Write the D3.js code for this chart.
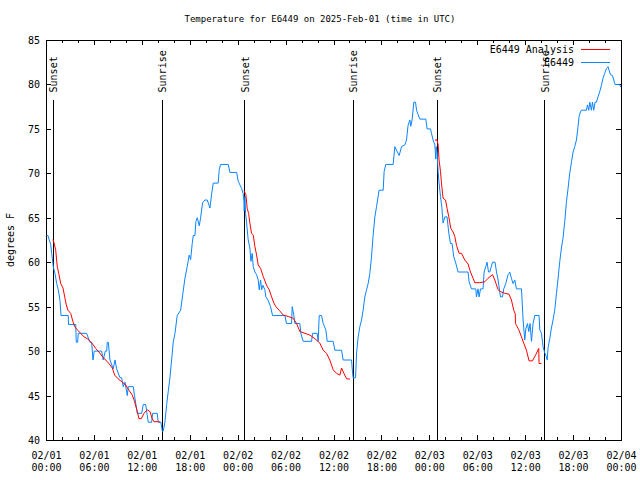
<!DOCTYPE html>
<html>
<head>
<meta charset="utf-8">
<script src="https://cdn.jsdelivr.net/npm/d3@7"></script>
<style>
  body { margin: 0; background: #fff; }
  text { font-family: "DejaVu Sans Mono", "Liberation Mono", monospace; font-size: 10px; fill: #000; }
  .domain { display: none; }
</style>
</head>
<body>
<div class="chart"></div>
<script>
// hours after 2025-02-01 00:00 UTC, degrees F
var observed = [
  [0.06,63],[0.25,63],[0.41,62.5],[0.59,62],[0.71,61],[0.91,59.5],[1.13,58.7],[1.34,57.6],[1.54,56.9],[1.75,55.7],
  [1.88,54],[2.79,54],[2.82,53],[3.72,53],[3.79,51],[3.96,51],[4.04,52],[5.09,52],[5.29,51.5],[5.51,51],
  [5.72,51],[5.88,49],[6.04,50],[6.97,50],[7.17,49],[7.42,50],[7.6,50],[7.67,51],[7.8,51],[8.01,49],
  [8.42,48],[8.64,49],[8.85,48],[9.26,47],[9.47,47],[9.67,46],[9.89,46.5],[10.18,45],[10.3,46],[10.93,46],
  [11.08,45],[11.26,44],[11.43,43],[11.98,43],[12.18,44],[12.48,44],[12.64,43],[12.8,42],[13.23,42],[13.35,43],
  [13.93,43],[14.05,42],[14.39,42],[14.56,41],[14.68,41],[14.89,42],[15.11,44],[15.31,45.5],[15.52,47],[15.73,49],
  [15.93,51],[16.15,52],[16.43,54],[16.86,54.6],[17.11,56.3],[17.4,58.2],[17.68,59.5],[17.93,60.8],[18.11,60.3],[18.31,62.1],
  [18.44,63],[18.65,63],[18.77,64.6],[18.94,65],[19.19,64.1],[19.36,65],[19.61,66.7],[19.9,67],[20.19,67],[20.53,66.1],
  [20.74,67.7],[20.94,68.9],[21.56,68.9],[21.69,70.4],[21.86,71],[22.82,71],[23.03,70.1],[23.87,70.1],[24.07,69.1],[24.28,68.7],
  [24.49,68.3],[24.69,67.7],[24.78,66.9],[24.82,65.8],[24.91,67.4],[24.99,65.5],[25.12,64.4],[25.32,62.5],[25.53,61.6],[25.66,60.1],
  [25.82,61],[25.95,59.5],[26.16,58.9],[26.37,58.6],[26.57,58],[26.7,56.9],[26.87,58],[27.0,56.9],[27.16,57.4],[27.41,56.9],
  [27.53,56.1],[27.82,55.7],[28.12,55],[28.37,54],[29.91,54],[30.12,53.1],[30.75,53.1],[30.83,55],[31.04,54],[31.16,53.1],
  [31.79,53.1],[31.91,52],[32.2,51.1],[33.25,51.1],[33.38,52],[33.95,52],[34.08,51.1],[34.21,54],[34.51,54],[34.71,53.1],
  [35.04,52.4],[35.21,51.1],[35.96,51.1],[36.17,50.1],[37.01,50.1],[37.21,49],[38.26,49],[38.39,47.5],[38.46,47],[38.76,47],
  [38.89,49.8],[39.09,51.6],[39.3,52.75],[39.51,53.5],[39.71,54.6],[39.92,56.1],[40.14,56.9],[40.34,57.6],[40.55,58.75],[40.76,60.6],
  [40.96,63],[41.18,65.1],[41.39,66.25],[41.71,68.1],[42.22,68.1],[42.34,70.2],[42.55,71],[43.47,71],[43.68,73],[43.89,72.6],
  [44.22,72],[44.52,73],[44.93,73.2],[45.14,73.75],[45.34,75.4],[45.56,76],[45.68,75.3],[45.84,76],[46.06,78],[46.27,78],
  [46.4,77.1],[46.6,76.6],[46.81,76.1],[47.56,76.1],[47.72,75],[48.15,75],[48.27,74.5],[48.47,73.75],[48.69,73.2],[48.81,71.6],
  [48.87,73],[48.97,72.4],[49.1,70.2],[49.22,68.9],[49.4,67.4],[49.56,66.25],[49.72,64.4],[49.94,65.1],[50.22,65.1],[50.44,63.25],
  [50.65,62.1],[50.85,62.1],[51.06,60.6],[51.31,59.9],[51.6,58.9],[52.85,58.9],[52.98,57.8],[53.28,57],[53.82,57],[53.9,56.1],
  [54.1,57],[54.23,56.1],[54.41,57],[54.73,57],[54.86,58.9],[55.07,59.5],[55.23,60],[55.41,58.9],[55.57,58.9],[55.91,60],
  [56.23,60],[56.41,58.9],[56.61,58],[56.91,56.1],[57.16,56.1],[57.32,57],[57.57,57.6],[57.86,58.6],[58.07,58.9],[58.28,58.2],
  [58.48,57.6],[58.7,58],[58.91,57],[59.54,57],[59.74,53.5],[59.95,51.25],[60.08,52.5],[60.29,53.1],[60.45,52.2],[60.61,53.1],
  [60.79,51.1],[60.99,53.1],[61.2,54],[61.74,54],[61.83,52.4],[62.04,52],[62.24,50.5],[62.45,49.8],[62.66,49.4],[62.76,49],
  [62.86,50.3],[63.08,51.4],[63.29,52.6],[63.49,53.5],[63.7,54.6],[63.92,56.5],[64.12,58.2],[64.33,60.06],[64.54,61.6],[64.74,62.7],
  [64.96,64.6],[65.17,66.8],[65.37,68.3],[65.58,70],[65.8,71.3],[66.0,72.4],[66.21,73],[66.42,73.75],[66.62,75.25],[66.75,76.4],
  [66.92,76.9],[67.05,77.1],[67.67,77.1],[67.8,77.7],[67.96,77.1],[68.09,78],[68.3,77.1],[68.42,78],[68.59,77.1],[68.75,78],
  [68.92,78],[69.12,78.6],[69.34,79.2],[69.55,79.9],[69.75,80.7],[69.96,81.25],[70.18,81.8],[70.38,82],[70.5,81.6],[70.68,81.1],
  [70.93,81],[71.09,80.5],[71.25,80],[71.84,80],[71.97,79.7]
]

var analysisNight1 = [
  [0.81,62.5],[0.91,62.5],[1.21,61.4],[1.41,59.5],[1.63,58.6],[1.84,57.6],[2.13,57.1],[2.34,56.1],[2.54,55.2],[2.75,54.6],
  [3.09,54.25],[3.38,53.3],[3.59,52.75],[3.92,52.4],[4.34,52],[4.76,51.6],[5.17,51.4],[5.59,51.06],[5.92,50.7],[6.22,50.3],
  [6.63,49.9],[7.05,49.4],[7.47,49],[7.88,48.6],[8.3,48.1],[8.6,47.3],[9.01,46.9],[9.42,46.6],[9.97,46.2],[10.39,45.6],
  [10.8,45.06],[11.1,44.3],[11.43,43.2],[11.64,42.4],[11.93,42.4],[12.27,43],[12.68,43.4],[13.02,43.2],[13.3,42.4],[13.52,42.06],
  [14.14,42.06],[14.27,42]
]
var analysisNight2 = [
  [24.78,68.05],[25.03,67.6],[25.19,66.06],[25.37,65.5],[25.53,64.4],[25.74,63.25],[25.95,63.06],[26.16,61.75],[26.37,60.8],[26.57,59.7],
  [26.87,59.3],[27.2,58.4],[27.62,57.4],[27.95,56.9],[28.25,56.1],[28.54,55.4],[28.79,55],[29.2,54.6],[29.7,54.06],[30.33,53.9],
  [30.95,53.7],[31.38,53.1],[31.79,52.2],[32.42,52],[33.04,51.8],[33.67,51.4],[34.29,50.9],[34.71,50.1],[35.13,49.75],[35.54,49],
  [35.96,47.9],[36.38,47.5],[36.8,47.3],[37.01,48.1],[37.3,47.5],[37.63,46.9],[38.05,46.85]
]
var analysisNight3 = [
  [48.69,73.75],[48.97,73.75],[49.1,73.2],[49.22,71.5],[49.4,70.2],[49.52,68.9],[49.72,67.2],[50.03,67],[50.22,66.06],[50.44,65.1],
  [50.69,63.8],[50.98,63.4],[51.19,62.9],[51.4,61.9],[51.73,61],[52.03,61],[52.44,60.25],[52.85,59.8],[53.15,58.9],[53.48,58.2],
  [53.69,57.7],[54.32,57.7],[54.94,57.8],[55.36,58.2],[55.91,58.6],[56.2,58],[56.61,56.9],[56.91,56.7],[57.45,56.5],[57.98,56.4],
  [58.28,55.75],[58.57,54.6],[58.76,54.2],[58.79,53.1],[58.91,52.9],[59.2,52.4],[59.54,51.6],[59.82,50.9],[60.16,50.1],[60.49,48.9],
  [60.91,48.9],[61.33,49.6],[61.7,50.3],[61.74,48.6],[62.04,48.6]
]

var sunHours = [0.91, 14.56, 24.9, 38.46, 48.97, 62.46]
var sunNames = ["Sunset", "Sunrise", "Sunset", "Sunrise", "Sunset", "Sunrise"]

var xTickHours = [0, 6, 12, 18, 24, 30, 36, 42, 48, 54, 60, 66, 72]
var xTickDates = ["02/01", "02/01", "02/01", "02/01", "02/02", "02/02", "02/02", "02/02", "02/03", "02/03", "02/03", "02/03", "02/04"]
var xTickTimes = ["00:00", "06:00", "12:00", "18:00", "00:00", "06:00", "12:00", "18:00", "00:00", "06:00", "12:00", "18:00", "00:00"]
var yTicks = [40, 45, 50, 55, 60, 65, 70, 75, 80, 85]

var plotL = 46, plotR = 621, plotT = 40, plotB = 440

var svg = d3.select('.chart')
    .append('svg')
    .attr('width', 640)
    .attr('height', 480)

var x = d3.scaleLinear().domain([0, 72]).range([plotL, plotR])
var y = d3.scaleLinear().domain([40, 85]).range([plotB, plotT])

// minor ticks every 2 hours, top and bottom
var minorHours = d3.range(0, 73, 2).filter(h => h % 6 != 0)
svg.append('g')
    .attr('transform', 'translate(0,' + plotB + ')')
    .call(d3.axisBottom(x).tickValues(minorHours).tickSize(-3).tickFormat(''))
svg.append('g')
    .attr('transform', 'translate(0,' + plotT + ')')
    .call(d3.axisTop(x).tickValues(minorHours).tickSize(-3).tickFormat(''))

var xAxis = svg.append('g')
    .attr('transform', 'translate(0,' + plotB + ')')
    .call(d3.axisBottom(x).tickValues(xTickHours).tickSize(-5).tickPadding(0).tickFormat(''))
xAxis.selectAll('.tick text').remove()
xAxis.selectAll('.tick').append('text')
    .attr('text-anchor', 'middle')
    .each(function (d, i) {
        var t = d3.select(this)
        t.append('tspan').attr('x', 0).attr('y', 19).text(xTickDates[i])
        t.append('tspan').attr('x', 0).attr('y', 31).text(xTickTimes[i])
    })
svg.append('g')
    .attr('transform', 'translate(0,' + plotT + ')')
    .call(d3.axisTop(x).tickValues(xTickHours).tickSize(-5).tickFormat(''))

svg.append('g')
    .attr('transform', 'translate(' + plotL + ',0)')
    .call(d3.axisLeft(y).tickValues(yTicks).tickSize(-5).tickPadding(6))
    .selectAll('text').attr('dy', '0.35em')
svg.append('g')
    .attr('transform', 'translate(' + plotR + ',0)')
    .call(d3.axisRight(y).tickValues(yTicks).tickSize(-5).tickFormat(''))

svg.selectAll('.tick line').attr('stroke', '#000').attr('shape-rendering', 'crispEdges')

svg.append('rect')
    .attr('x', plotL).attr('y', plotT)
    .attr('width', plotR - plotL).attr('height', plotB - plotT)
    .attr('fill', 'none').attr('stroke', '#000')
    .attr('shape-rendering', 'crispEdges')

// sunrise / sunset markers
var sun = svg.selectAll('.sun')
    .data(sunHours)
    .enter()
    .append('g')
    .attr('class', 'sun')
sun.append('line')
    .attr('x1', d => x(d)).attr('x2', d => x(d))
    .attr('y1', y(78.3)).attr('y2', plotB)
    .attr('stroke', '#000')
    .attr('shape-rendering', 'crispEdges')
sun.append('text')
    .attr('transform', d => 'translate(' + (x(d) + 4) + ',' + y(79.1) + ') rotate(-90)')
    .text((d, i) => sunNames[i])

var line = d3.line().x(d => x(d[0])).y(d => y(d[1]))

svg.append('path')
    .datum(observed)
    .attr('d', line)
    .attr('fill', 'none')
    .attr('stroke', '#0a84ff')

var nights = [analysisNight1, analysisNight2, analysisNight3]
svg.selectAll('.ana')
    .data(nights)
    .enter()
    .append('path')
    .attr('class', 'ana')
    .attr('d', line)
    .attr('fill', 'none')
    .attr('stroke', '#ff0000')

// legend
var legendNames = ["E6449 Analysis", "E6449"]
var legendColors = ["#ff0000", "#0a84ff"]
var lg = svg.selectAll('.legend')
    .data(legendNames)
    .enter()
    .append('g')
    .attr('class', 'legend')
    .attr('transform', (d, i) => 'translate(0,' + (49.5 + i * 13) + ')')
lg.append('text')
    .attr('x', 574)
    .attr('dy', '0.35em')
    .attr('text-anchor', 'end')
    .text(d => d)
lg.append('line')
    .attr('x1', 581).attr('x2', 610)
    .attr('stroke', (d, i) => legendColors[i])

svg.append('text')
    .attr('x', 320).attr('y', 22)
    .attr('text-anchor', 'middle')
    .style('font-size', '9px')
    .text('Temperature for E6449 on 2025-Feb-01 (time in UTC)')

svg.append('text')
    .attr('transform', 'translate(14,' + 240 + ') rotate(-90)')
    .attr('text-anchor', 'middle')
    .text('degrees F')
</script>
</body>
</html>
